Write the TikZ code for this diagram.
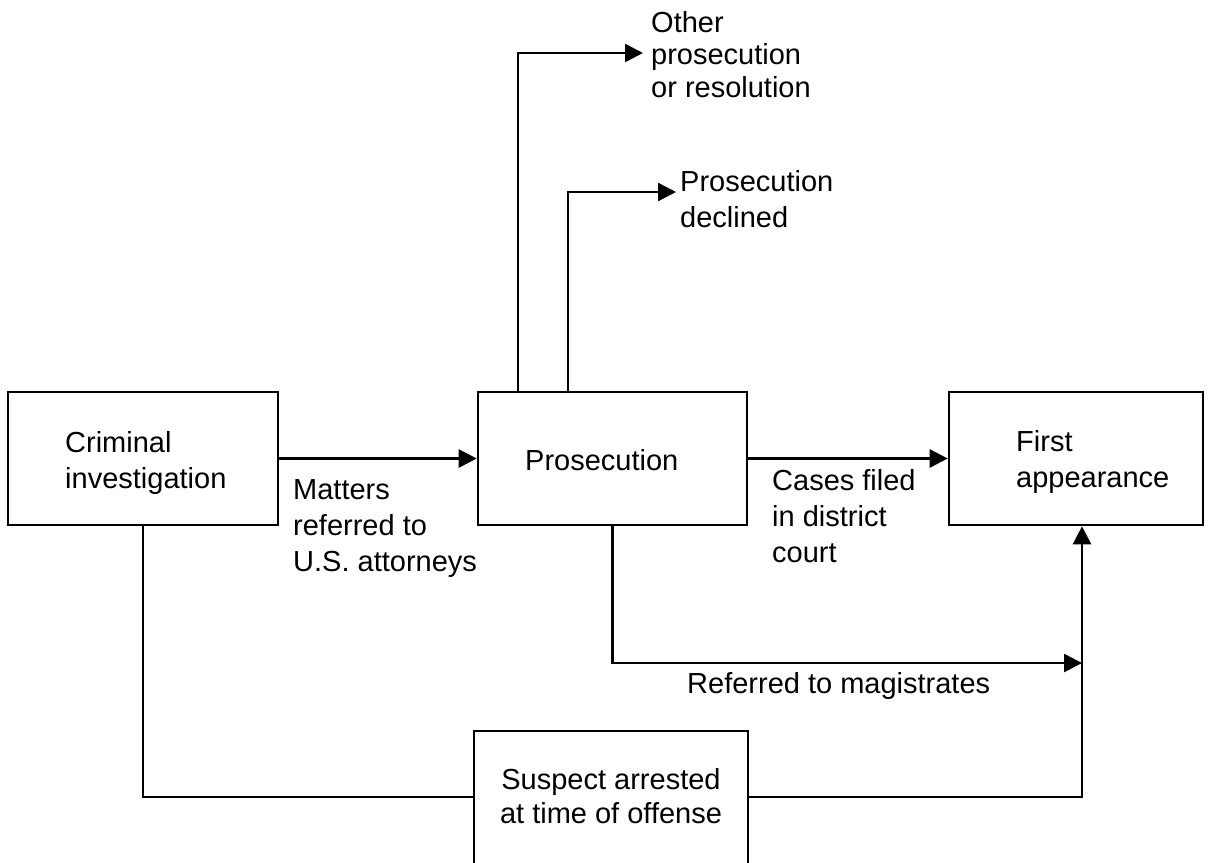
\documentclass[tikz,border=0pt]{standalone}
\usepackage{fontspec}
\setmainfont{Liberation Sans}
\usetikzlibrary{arrows.meta}
\newcommand{\lftlines}[1]{\begin{tabular}[t]{@{}l@{}}#1\end{tabular}}
\newcommand{\ctrlines}[1]{\begin{tabular}[t]{@{}c@{}}#1\end{tabular}}
\begin{document}
\begin{tikzpicture}[x=1pt,y=-1pt,
  box/.style={draw,line width=2.6pt,inner sep=0pt},
  txt/.style={inner sep=0pt,font=\fontsize{29pt}{36pt}\selectfont},
  conn/.style={line width=2.6pt},
  arr/.style={conn,-{Triangle[length=18pt,width=18pt]}}]
\clip (0,0) rectangle (1209,862);
\fill[white] (0,0) rectangle (1209,862);
% boxes
\node[box,minimum width=270pt,minimum height=133pt] (ci) at (143,458.5) {};
\node[box,minimum width=269pt,minimum height=133pt] (pros) at (612.5,458.5) {};
\node[box,minimum width=254pt,minimum height=133pt] (fa) at (1076,458.5) {};
\node[box,minimum width=274pt,minimum height=136pt] (sus) at (611,799) {};
% box texts
\node[txt,anchor=base west] (cit) at (65,452) {\lftlines{Criminal\\investigation}};
\node[txt,anchor=base west] (prt) at (525,470) {Prosecution};
\node[txt,anchor=base west] (fat) at (1016,451) {\lftlines{First\\appearance}};
\node[txt,anchor=base,font=\fontsize{29pt}{34pt}\selectfont] (sust) at (611,789) {\ctrlines{Suspect arrested\\at time of offense}};
% labels
\node[txt,anchor=base west,font=\fontsize{29pt}{32.5pt}\selectfont] (oth) at (651,32) {\lftlines{Other\\prosecution\\or resolution}};
\node[txt,anchor=base west] (dec) at (680,191) {\lftlines{Prosecution\\declined}};
\node[txt,anchor=base west] (mat) at (293,499) {\lftlines{Matters\\referred to\\U.S. attorneys}};
\node[txt,anchor=base west] (cas) at (772,490) {\lftlines{Cases filed\\in district\\court}};
\node[txt,anchor=base west] (ref) at (687,693) {Referred to magistrates};
% connector ends
\coordinate (othend) at (643,53);
\coordinate (decend) at (676,192);
\coordinate (magend) at (1082,663);
% connectors
\draw[arr] (ci.east) -- (pros.west);
\draw[arr] (pros.east) -- (fa.west);
\draw[arr] ([xshift=-94.5pt]pros.north) |- (othend);
\draw[arr] ([xshift=-44.5pt]pros.north) |- (decend);
\draw[arr] (pros.south) |- (magend);
\draw[conn] (ci.south) |- ([yshift=2pt]sus.west);
\draw[arr] ([yshift=2pt]sus.east) -| ([xshift=6pt]fa.south);
\end{tikzpicture}
\end{document}
